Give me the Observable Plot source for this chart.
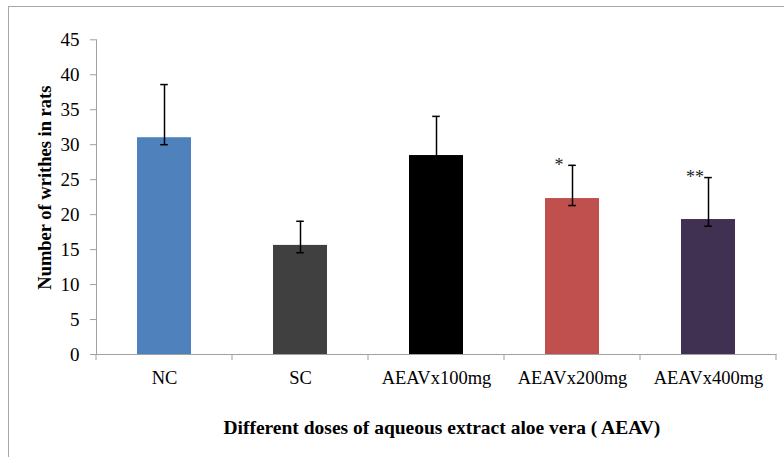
<!DOCTYPE html>
<html><head><meta charset="utf-8">
<script src="https://cdn.jsdelivr.net/npm/d3@7"></script>
<script src="https://cdn.jsdelivr.net/npm/@observablehq/plot@0.6"></script>
<style>
body{margin:0;background:#fff;}
#wrap{position:relative;width:784px;height:457px;overflow:hidden;background:#fff;}
#border{position:absolute;left:8px;top:6px;width:900px;height:600px;border-left:1.5px solid #a8a8a8;border-top:1.5px solid #a8a8a8;pointer-events:none;}
</style></head><body><div id="wrap"><div id="border"></div></div>
<script>
const categories = ["NC", "SC", "AEAVx100mg", "AEAVx200mg", "AEAVx400mg"];
const means = [31.0, 15.6, 28.45, 22.3, 19.3];
const errHi = [38.6, 19.05, 34.05, 27.05, 25.3];
const errLo = [30.0, 14.55, 27.4, 21.3, 18.35];
const barColors = ["#4f81bd", "#404040", "#000000", "#c0504d", "#403152"];
const stars = ["", "", "", "*", "**"];
const yTicks = [0, 5, 10, 15, 20, 25, 30, 35, 40, 45];
const xTitle = "Different doses of aqueous extract aloe vera ( AEAV)";
const yTitle = "Number of writhes in rats";

const data = categories.map((c, i) => ({cat: c, mean: means[i], lo: errLo[i], hi: errHi[i], color: barColors[i], star: stars[i]}));
const axisGray = "#a0a0a0";
const serif = "Liberation Serif, Times New Roman, serif";

const chart = Plot.plot({
  width: 784, height: 457,
  marginLeft: 96, marginRight: 7.3, marginTop: 39.3, marginBottom: 103,
  style: {fontFamily: serif, fontSize: "18.5px", background: "transparent", overflow: "visible"},
  x: {domain: categories, paddingInner: 0.6, paddingOuter: 0.3, label: null},
  y: {domain: [0, 45], label: null},
  color: {type: "identity"},
  marks: [
    Plot.barY(data, {x: "cat", y: "mean", fill: "color"}),
    Plot.ruleX(data, {x: "cat", y1: "lo", y2: "hi", stroke: "black", strokeWidth: 1.5}),
    Plot.tickY(data, {x: "cat", y: "hi", stroke: "black", strokeWidth: 1.5, insetLeft: 23.2, insetRight: 23.2}),
    Plot.tickY(data, {x: "cat", y: "lo", stroke: "black", strokeWidth: 1.5, insetLeft: 23.2, insetRight: 23.2}),
    Plot.text(data.filter(d => d.star), {x: "cat", y: "hi", text: "star", dx: -13.5, fontSize: 18, fontFamily: serif, lineAnchor: "middle", fill: "#222"}),
    Plot.frame({anchor: "left", stroke: axisGray}),
    Plot.ruleY([0], {stroke: axisGray}),
    Plot.axisY({ticks: yTicks, tickSize: 6, tickPadding: 11, stroke: axisGray, fill: "black", label: null, fontSize: 19, fontFamily: serif}),
    Plot.axisX({tickSize: 0, tickPadding: 16, fill: "black", label: null, fontSize: 18.5, fontFamily: serif}),
    Plot.text([xTitle], {frameAnchor: "bottom", dy: 73, dx: 5, fontWeight: "bold", fontSize: 19.5, fontFamily: serif, lineAnchor: "middle", fill: "black"})
  ]
});

const xs = chart.scale("x");
const ys = chart.scale("y");
const svg = d3.select(chart);

// force serif font on axis tick labels
svg.selectAll('g[aria-label="y-axis tick label"] text, g[aria-label="y-axis tick label"]')
  .style("font-family", serif).style("font-size", "19px");
svg.selectAll('g[aria-label="x-axis tick label"] text, g[aria-label="x-axis tick label"]')
  .style("font-family", serif).style("font-size", "18.5px");

// category boundary tick marks, derived from the x scale
const gap = (xs.step - xs.bandwidth) / 2;
const bounds = categories.map(c => xs.apply(c) - gap).concat([xs.apply(categories[categories.length - 1]) + xs.bandwidth + gap]);
const y0 = ys.apply(0);
svg.append("g")
  .selectAll("line").data(bounds).join("line")
  .attr("x1", d => d).attr("x2", d => d)
  .attr("y1", y0).attr("y2", y0 + 6)
  .attr("stroke", axisGray);

// rotated y-axis title
const yMid = (ys.apply(0) + ys.apply(45)) / 2 - 9;
svg.append("text")
  .attr("transform", `translate(45,${yMid}) rotate(-90)`)
  .attr("text-anchor", "middle")
  .attr("dy", "0.32em")
  .style("font-family", serif)
  .style("font-size", "18.5px")
  .attr("font-weight", "bold")
  .attr("fill", "black")
  .text(yTitle);

chart.style.position = "absolute";
chart.style.left = "0";
chart.style.top = "0";
document.getElementById("wrap").appendChild(chart);
</script>
</body></html>
